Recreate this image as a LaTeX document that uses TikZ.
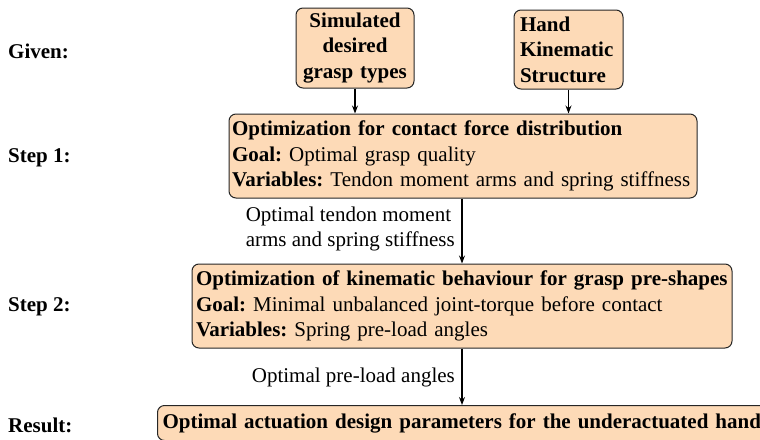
\documentclass[tikz,border=0pt]{standalone}
\usepackage{fontspec}
\setmainfont{Liberation Serif}
\usetikzlibrary{arrows.meta}
\definecolor{boxfill}{RGB}{253,218,183}
\frenchspacing
\begin{document}
\frenchspacing
\begin{tikzpicture}[x=1pt,y=-1pt,
  every node/.style={font=\fontsize{21}{25.5}\selectfont},
  box/.style={draw=black!85, line width=1pt, fill=boxfill, rounded corners=7pt, inner ysep=0pt},
  arr/.style={-{Stealth[length=8pt,width=6pt]}, line width=1.1pt},
  lbl/.style={font=\fontsize{21}{25.5}\selectfont\bfseries, anchor=base west, inner sep=0pt},
  edgelbl/.style={anchor=east, align=left, inner sep=0pt}]
\clip (0,0) rectangle (760,439);
% left labels
\node[lbl] (given) at (8,58) {Given:};
\node[lbl] (st1) at (8,162) {Step 1:};
\node[lbl] (st2) at (8,311) {Step 2:};
\node[lbl] (rst) at (8,432) {Result:};
% top boxes
\node[box, inner xsep=4pt, text width=110pt, minimum height=80pt, align=center, font=\fontsize{21}{25.5}\selectfont\bfseries] (sim) at (355,48) {Simulated\\desired\\grasp types};
\node[box, inner xsep=6pt, text width=97pt, minimum height=79pt, align=left, font=\fontsize{21}{25.5}\selectfont\bfseries] (hand) at (568.5,49.5) {Hand\\Kinematic\\Structure};
% step 1
\node[box, inner xsep=3pt, text width=462pt, minimum height=84pt, align=left] (s1) at (463,156)
  {\textbf{Optimization for contact force distribution}\\
   \textbf{Goal:} Optimal grasp quality\\
   \textbf{Variables:} Tendon moment arms and spring stiffness};
% step 2
\node[box, inner xsep=4pt, text width=532pt, minimum height=84pt, align=left] (s2) at (462,306)
  {\textbf{Optimization of kinematic behaviour for grasp pre-shapes}\\
   \textbf{Goal:} Minimal unbalanced joint-torque before contact\\
   \textbf{Variables:} Spring pre-load angles};
% result
\node[box, anchor=north west, inner xsep=5pt, text width=660pt, minimum height=35pt, align=left] (res) at (157,405)
  {\textbf{Optimal actuation design parameters for the underactuated hand}};
% connectors
\draw[arr] (sim.south) -- (sim.south |- s1.north);
\draw[arr] (hand.south) -- (hand.south |- s1.north);
\draw[arr] (s1.south -| 462,0) -- (s2.north -| 462,0);
\draw[arr] (s2.south) -- (s2.south |- res.north);
% connector labels
\node[edgelbl] (l1) at (455,229) {Optimal tendon moment\\arms and spring stiffness};
\node[edgelbl] (l2) at (455,377) {Optimal pre-load angles};
\end{tikzpicture}
\end{document}
